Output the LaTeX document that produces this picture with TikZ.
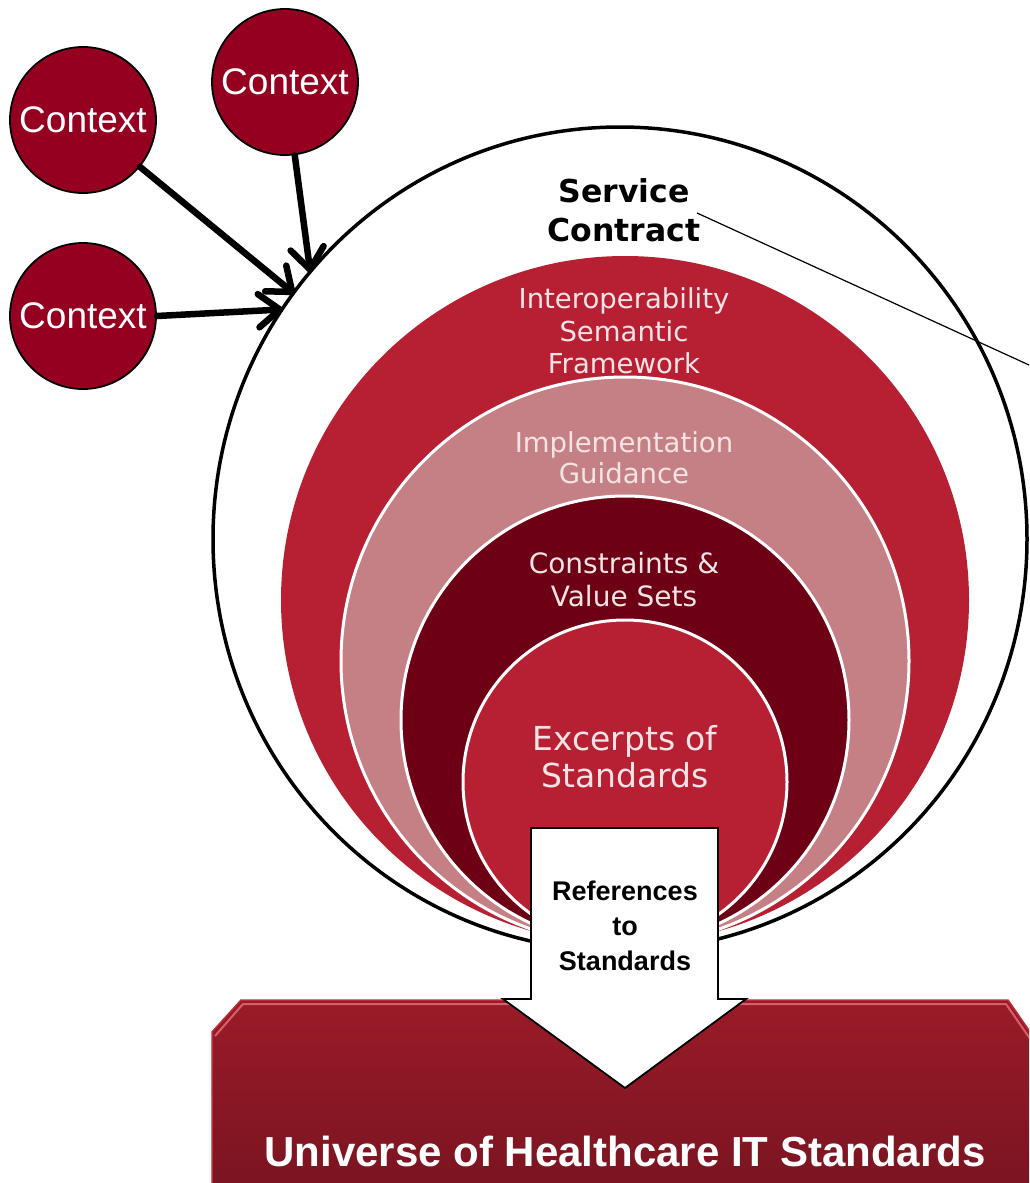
\documentclass[tikz,border=0pt]{standalone}
\usepackage{fontspec}
\setmainfont{Liberation Sans}
\newfontfamily\dejavu{DejaVu Sans}
\usetikzlibrary{calc,shapes.geometric}
\definecolor{ctxred}{HTML}{960020}
\definecolor{ringred}{HTML}{B72033}
\definecolor{ringpink}{HTML}{C48084}
\definecolor{ringdark}{HTML}{6D0014}
\definecolor{ringtext}{HTML}{F6E3E5}
\definecolor{boxtop}{HTML}{9A1B28}
\definecolor{boxbot}{HTML}{781420}
\definecolor{boxhi}{HTML}{D4606A}
\definecolor{boxedge}{HTML}{C02A3A}
\tikzset{
  ctx/.style={circle, draw=black, line width=1.8pt, fill=ctxred, minimum size=146pt, inner sep=0pt,
    text=white, font=\fontsize{37}{40}\selectfont},
  ring/.style={circle, inner sep=0pt, draw=white, line width=3pt},
  ctxline/.style={line width=6.5pt, line cap=round, line join=round},
  ringlabel/.style={align=center, text=ringtext, inner sep=0pt},
}
\begin{document}
\begin{tikzpicture}[x=1pt,y=-1pt]
\useasboundingbox (0,0) rectangle (1029,1183);
\clip (0,0) rectangle (1029,1183);

% bottom box
\shade[top color=boxtop, bottom color=boxbot] (212,1032) -- (241,1000) -- (1008,1000) -- (1060,1075) -- (1060,1200) -- (212,1200) -- cycle;
\draw[boxedge, line width=1.5pt] (212,1200) -- (212,1032) -- (241,1000) -- (1008,1000) -- (1060,1075);
\draw[boxhi, line width=2pt] (215,1036) -- (243,1004) -- (1006,1004) -- (1060,1082);

% outer service contract ellipse
\node[ellipse, draw=black, line width=3.5pt, fill=white, minimum width=814pt, minimum height=824pt, inner sep=0pt] (outer) at (620,539) {};

% rings
\node[ring, draw=none, fill=ringred, minimum size=688pt] (r1) at (625,600) {};
\node[ring, fill=ringpink, minimum size=568pt] (r2) at (625,661) {};
\node[ring, fill=ringdark, minimum size=448pt] (r3) at (625,720) {};
\node[ring, fill=ringred, minimum size=324pt] (r4) at (625,782) {};

% texts
\node[align=center, inner sep=0pt, font=\dejavu\bfseries\fontsize{31.5}{39}\selectfont] (sc) at (624,210) {Service\\Contract};
\node[ringlabel, font=\dejavu\fontsize{27.5}{32.5}\selectfont] (t1) at (624,331) {Interoperability\\Semantic\\Framework};
\node[ringlabel, font=\dejavu\fontsize{27.5}{31}\selectfont] (t2) at (624,458) {Implementation\\Guidance};
\node[ringlabel, font=\dejavu\fontsize{28}{33}\selectfont] (t3) at (624,580) {Constraints \&\\Value Sets};
\node[ringlabel, font=\dejavu\fontsize{33}{37}\selectfont] (t4) at (625,757) {Excerpts of\\Standards};

% pointer line from Service Contract
\coordinate (scpt) at (697,213);
\coordinate (scfar) at (1100,397.5);
\draw[line width=1.2pt] (scpt) -- (scfar);

% block arrow
\draw[fill=white, line width=1.8pt, line join=miter] (531,828) -- (718,828) -- (718,999) -- (746,999) -- (625,1088) -- (503,999) -- (531,999) -- cycle;
\node[align=center, inner sep=0pt, font=\bfseries\fontsize{27}{35}\selectfont] (refs) at (625,926) {References\\to\\Standards};

% universe text
\node[text=white, font=\bfseries\fontsize{42}{46}\selectfont] (uni) at (625,1151) {Universe of Healthcare IT Standards};

% context circles
\node[ctx] (c1) at (83,120) {Context};
\node[ctx] (c2) at (285,82) {Context};
\node[ctx] (c3) at (83,316) {Context};

% context arrows with open chevron heads
\coordinate (tp1) at (outer.143.3);
\coordinate (tp2) at (outer.139);
\coordinate (tp3) at (outer.146.5);
\coordinate (c3e) at (c3.east);
\draw[ctxline] (c1) -- (tp1);
\draw[ctxline] ($(tp1)!27pt!38:(c1)$) -- (tp1) -- ($(tp1)!27pt!-38:(c1)$);
\draw[ctxline] (c2) -- (tp2);
\draw[ctxline] ($(tp2)!27pt!38:(c2)$) -- (tp2) -- ($(tp2)!27pt!-38:(c2)$);
\draw[ctxline] (c3e) -- (tp3);
\draw[ctxline] ($(tp3)!27pt!38:(c3e)$) -- (tp3) -- ($(tp3)!27pt!-38:(c3e)$);
\end{tikzpicture}
\end{document}
